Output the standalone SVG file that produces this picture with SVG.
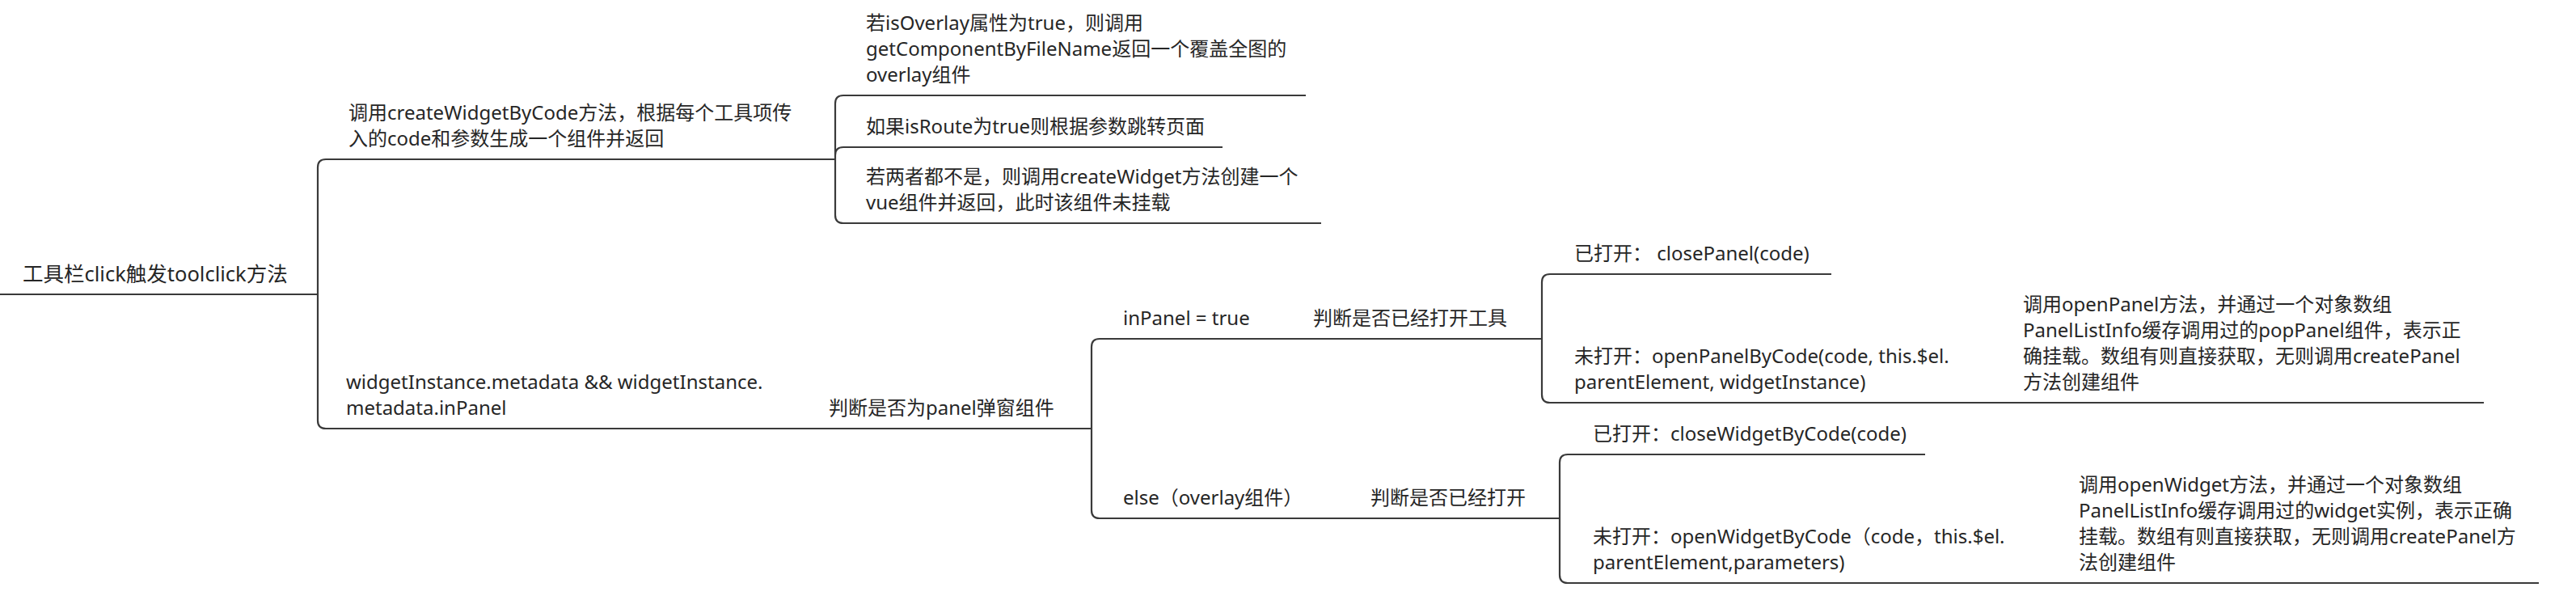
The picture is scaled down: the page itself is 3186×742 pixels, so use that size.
<svg xmlns="http://www.w3.org/2000/svg" width="3186" height="742" viewBox="0 0 3186 742">
<style>
text{font-family:"Noto Sans","Noto Sans CJK SC",sans-serif;font-size:24px;fill:#262626}
.root{font-size:25.5px}
.ul{stroke:#3a3a3a;stroke-width:2.2;fill:none;stroke-linecap:butt}
.cn{stroke:#3a3a3a;stroke-width:2.2;fill:none}
</style>
<rect width="3186" height="742" fill="#ffffff"/>
<g id="connectors">
<path class="cn" d="M393,364 V207 Q393,197 403,197 M393,364 V520 Q393,530 403,530"/>
<path class="cn" d="M1033,197 V128 Q1033,118 1043,118 M1033,197 V192 Q1033,182 1043,182 M1033,197 V266 Q1033,276 1043,276"/>
<path class="cn" d="M963,530 H1012"/>
<path class="cn" d="M1350,530 V429 Q1350,419 1360,419 M1350,530 V631 Q1350,641 1360,641"/>
<path class="cn" d="M1559,419 H1608 M1883,419 H1907"/>
<path class="cn" d="M1907,419 V349 Q1907,339 1917,339 M1907,419 V488 Q1907,498 1917,498"/>
<path class="cn" d="M2440,498 H2489"/>
<path class="cn" d="M1631,641 H1680 M1905,641 H1929"/>
<path class="cn" d="M1929,641 V572 Q1929,562 1939,562 M1929,641 V711 Q1929,721 1939,721"/>
<path class="cn" d="M2507,721 H2556"/>
</g>
<g id="root">
<text class="root" x="28" y="348">工具栏click触发toolclick方法</text>
<line class="ul" x1="0" y1="364" x2="393" y2="364"/>
</g>
<g id="createWidget">
<text x="431" y="148">调用createWidgetByCode方法，根据每个工具项传</text>
<text x="431" y="180">入的code和参数生成一个组件并返回</text>
<line class="ul" x1="403" y1="197" x2="1033" y2="197"/>
</g>
<g id="isOverlay">
<text x="1071" y="37">若isOverlay属性为true，则调用</text>
<text x="1071" y="69">getComponentByFileName返回一个覆盖全图的</text>
<text x="1071" y="101">overlay组件</text>
<line class="ul" x1="1043" y1="118" x2="1615" y2="118"/>
</g>
<g id="isRoute">
<text x="1071" y="165">如果isRoute为true则根据参数跳转页面</text>
<line class="ul" x1="1043" y1="182" x2="1512" y2="182"/>
</g>
<g id="neither">
<text x="1071" y="227">若两者都不是，则调用createWidget方法创建一个</text>
<text x="1071" y="259">vue组件并返回，此时该组件未挂载</text>
<line class="ul" x1="1043" y1="276" x2="1634" y2="276"/>
</g>
<g id="metadata">
<text x="428" y="481">widgetInstance.metadata &amp;&amp; widgetInstance.</text>
<text x="428" y="513">metadata.inPanel</text>
<line class="ul" x1="403" y1="530" x2="963" y2="530"/>
</g>
<g id="isPanel">
<text x="1025" y="513">判断是否为panel弹窗组件</text>
<line class="ul" x1="1012" y1="530" x2="1350" y2="530"/>
</g>
<g id="inPanel">
<text x="1389" y="402">inPanel = true</text>
<line class="ul" x1="1360" y1="419" x2="1559" y2="419"/>
</g>
<g id="panelOpened">
<text x="1624" y="402">判断是否已经打开工具</text>
<line class="ul" x1="1608" y1="419" x2="1883" y2="419"/>
</g>
<g id="closePanel">
<text x="1947" y="322">已打开： closePanel(code)</text>
<line class="ul" x1="1917" y1="339" x2="2265" y2="339"/>
</g>
<g id="openPanelByCode">
<text x="1947" y="449">未打开：openPanelByCode(code, this.$el.</text>
<text x="1947" y="481">parentElement, widgetInstance)</text>
<line class="ul" x1="1917" y1="498" x2="2440" y2="498"/>
</g>
<g id="openPanel">
<text x="2502" y="385">调用openPanel方法，并通过一个对象数组</text>
<text x="2502" y="417">PanelListInfo缓存调用过的popPanel组件，表示正</text>
<text x="2502" y="449">确挂载。数组有则直接获取，无则调用createPanel</text>
<text x="2502" y="481">方法创建组件</text>
<line class="ul" x1="2489" y1="498" x2="3072" y2="498"/>
</g>
<g id="else">
<text x="1389" y="624">else（overlay组件）</text>
<line class="ul" x1="1360" y1="641" x2="1631" y2="641"/>
</g>
<g id="widgetOpened">
<text x="1695" y="624">判断是否已经打开</text>
<line class="ul" x1="1680" y1="641" x2="1905" y2="641"/>
</g>
<g id="closeWidget">
<text x="1970" y="545">已打开：closeWidgetByCode(code)</text>
<line class="ul" x1="1939" y1="562" x2="2381" y2="562"/>
</g>
<g id="openWidgetByCode">
<text x="1970" y="672">未打开：openWidgetByCode（code，this.$el.</text>
<text x="1970" y="704">parentElement,parameters)</text>
<line class="ul" x1="1939" y1="721" x2="2507" y2="721"/>
</g>
<g id="openWidget">
<text x="2571" y="608">调用openWidget方法，并通过一个对象数组</text>
<text x="2571" y="640">PanelListInfo缓存调用过的widget实例，表示正确</text>
<text x="2571" y="672">挂载。数组有则直接获取，无则调用createPanel方</text>
<text x="2571" y="704">法创建组件</text>
<line class="ul" x1="2556" y1="721" x2="3140" y2="721"/>
</g>
</svg>
